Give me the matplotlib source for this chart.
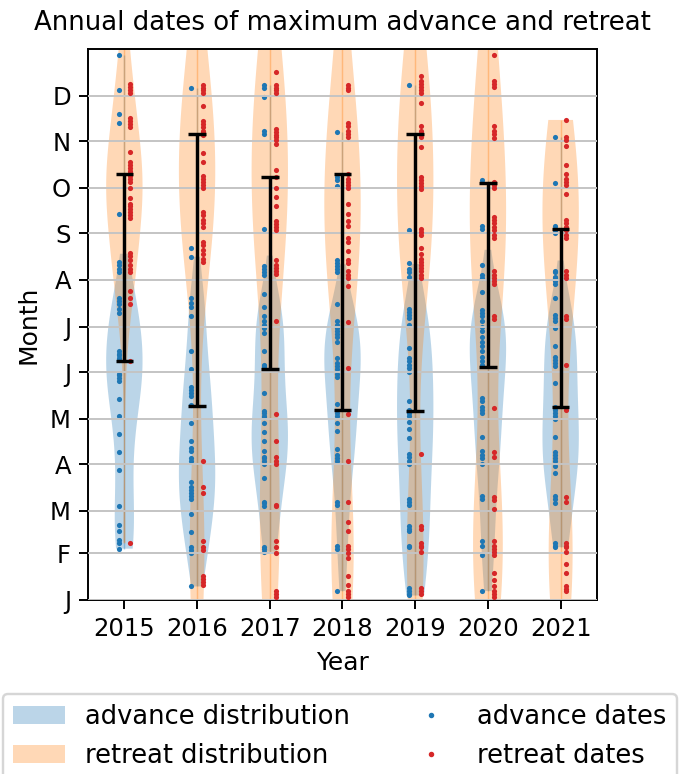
import matplotlib
matplotlib.use("Agg")
import matplotlib.pyplot as plt
from matplotlib import mlab
from matplotlib.patches import Patch
from matplotlib.lines import Line2D
import numpy as np

years = [2015, 2016, 2017, 2018, 2019, 2020, 2021]
month_labels = ["J", "F", "M", "A", "M", "J", "J", "A", "S", "O", "N", "D"]
month_start_days = [1, 32, 60, 91, 121, 152, 182, 213, 244, 274, 305, 335]

# day-of-year of annual maximum advance, per year
advance_2015 = [362, 339, 323, 317, 257, 225, 223, 220, 218, 201, 199, 197, 194, 191, 166, 164, 163, 161, 160,
                151, 150, 148, 146, 134, 123, 111, 99, 87, 63, 51, 47, 41, 39, 35]
advance_2016 = [340, 234, 228, 201, 198, 195, 189, 166, 154, 142, 140, 138, 136, 130, 118, 106, 102, 100, 95, 93,
                79, 76, 74, 72, 70, 68, 58, 46, 36, 34, 32, 10]
advance_2017 = [342, 340, 334, 312, 310, 247, 222, 220, 218, 216, 204, 195, 189, 186, 183, 181, 178, 166, 157, 156,
                155, 138, 126, 125, 123, 122, 118, 112, 106, 100, 96, 95, 93, 91, 82, 66, 65, 63, 36, 35, 33]
advance_2018 = [311, 281, 279, 275, 226, 224, 222, 220, 218, 197, 186, 183, 181, 179, 177, 175, 172, 161, 158, 156,
                154, 151, 149, 131, 125, 123, 118, 113, 101, 97, 95, 93, 66, 64, 37, 35, 7]
advance_2019 = [342, 246, 224, 220, 218, 215, 194, 192, 190, 188, 183, 168, 161, 159, 157, 155, 152, 133, 127, 125,
                123, 119, 114, 108, 98, 96, 93, 91, 68, 66, 64, 50, 48, 47, 37, 36, 9, 7, 5, 4]
advance_2020 = [279, 249, 247, 223, 216, 214, 205, 193, 191, 189, 186, 182, 179, 175, 172, 169, 166, 162, 159, 157,
                135, 133, 129, 127, 125, 109, 100, 97, 95, 91, 70, 68, 40, 37, 31, 7]
advance_2021 = [308, 277, 249, 247, 246, 244, 219, 218, 215, 214, 212, 210, 201, 190, 188, 186, 181, 169, 162, 160,
                158, 156, 145, 129, 127, 125, 123, 121, 109, 99, 97, 95, 93, 90, 85, 70, 68, 65, 39, 37, 36]

# day-of-year of annual maximum retreat, per year (values outside 1..366 fall outside the view)
retreat_2015 = [385, 372, 343, 341, 339, 337, 320, 318, 316, 314, 298, 291, 289, 287, 285, 284, 282, 280, 278, 274,
                267, 263, 262, 260, 258, 256, 254, 231, 229, 226, 223, 220, 218, 206, 201, 197, 159, 39]
retreat_2016 = [390, 375, 342, 340, 339, 337, 328, 318, 316, 314, 312, 311, 309, 297, 291, 282, 280, 278, 276, 274,
                258, 256, 253, 251, 248, 238, 236, 233, 230, 227, 225, 93, 76, 72, 40, 36, 34, 17, 15, 13, 11, -5]
retreat_2017 = [395, 380, 370, 351, 342, 340, 339, 337, 313, 311, 309, 308, 306, 303, 286, 281, 274, 268, 262, 252,
                250, 248, 246, 226, 223, 221, 219, 217, 186, 124, 106, 96, 93, 91, 64, 63, 40, 36, 32, 7, 5, 3, -5]
retreat_2018 = [388, 372, 342, 340, 339, 317, 315, 312, 310, 308, 283, 280, 278, 276, 274, 263, 257, 252, 249, 241,
                238, 232, 226, 224, 219, 216, 214, 209, 185, 155, 124, 93, 66, 53, 47, 37, 35, 32, 29, 17, 11, 7, 5, 3,
                -5]
retreat_2019 = [390, 375, 348, 345, 343, 341, 339, 337, 330, 315, 312, 310, 308, 301, 281, 279, 277, 275, 273, 247,
                245, 243, 234, 230, 227, 225, 223, 221, 219, 216, 214, 98, 50, 48, 39, 37, 36, 33, 9, 7, 5, -5]
retreat_2020 = [385, 372, 362, 345, 343, 341, 315, 312, 310, 307, 278, 276, 274, 255, 253, 251, 248, 246, 243, 241,
                219, 216, 214, 212, 210, 189, 187, 128, 99, 96, 69, 67, 61, 40, 37, 35, 33, 31, 19, 14, 10, 7, 5, 3, -5]
retreat_2021 = [319, 308, 306, 302, 289, 283, 280, 278, 276, 270, 253, 251, 248, 246, 243, 241, 219, 216, 214, 189,
                187, 157, 127, 69, 66, 39, 37, 36, 33, 25, 19, 10, 8, 7, -3]

# summary dates marked by the black bars
advance_mean = [159.5, 129.7, 154.0, 127.1, 126.4, 155.3, 128.6]
retreat_mean = [283.0, 309.4, 281.4, 283.0, 309.4, 277.0, 246.8]

# the advance distribution covers the advance season only (up to late July)
advance_season_end = 206

advance = [advance_2015, advance_2016, advance_2017, advance_2018, advance_2019, advance_2020, advance_2021]
retreat = [retreat_2015, retreat_2016, retreat_2017, retreat_2018, retreat_2019, retreat_2020, retreat_2021]
advance_season = [[v for v in a if v <= advance_season_end] for a in advance]


def kde_stats(data, extend_top):
    data = np.asarray(data, dtype=float)
    kde = mlab.GaussianKDE(data, "scott")
    bw = float(np.sqrt(np.atleast_2d(kde.covariance)[0, 0]))
    lo, hi = data.min(), data.max() + extend_top * bw
    coords = np.linspace(lo, hi, 200)
    return dict(coords=coords, vals=kde.evaluate(coords), mean=data.mean(), median=np.median(data),
                min=lo, max=hi)


DPI = 175
fig = plt.figure(figsize=(680 / DPI, 774 / DPI), dpi=DPI)
ax = fig.add_axes([88 / 680, 1 - 600 / 774, (597 - 88) / 680, (600 - 49) / 774])

blue = "#1f77b4"
orange = "#ff7f0e"
red = "#d62728"
offset = 0.08

# advance violins
vp = ax.violin([kde_stats(a, 1.0) for a in advance_season], positions=years, widths=0.5, showextrema=False)
for b in vp["bodies"]:
    b.set_facecolor(blue)
    b.set_edgecolor("none")
    b.set_alpha(0.3)
ax.vlines(years, [min(a) for a in advance], [max(a) for a in advance], color=blue, alpha=0.35, lw=0.6)
for yr, vals in zip(years, advance):
    ax.scatter(np.full(len(vals), yr - offset), vals, s=4.5, color=blue, linewidths=0, zorder=2)

# retreat violins
vp2 = ax.violinplot(retreat, positions=years, widths=0.5, showextrema=False)
for b in vp2["bodies"]:
    b.set_facecolor(orange)
    b.set_edgecolor("none")
    b.set_alpha(0.3)
ax.vlines(years, [min(r) for r in retreat], [max(r) for r in retreat], color=orange, alpha=0.35, lw=0.6)
for yr, vals in zip(years, retreat):
    ax.scatter(np.full(len(vals), yr + offset), vals, s=4.5, color=red, linewidths=0, zorder=3)

# black bars between summary dates
ax.vlines(years, advance_mean, retreat_mean, color="black", lw=1.4, zorder=5)
ax.hlines(advance_mean, [y - 0.12 for y in years], [y + 0.12 for y in years], color="black", lw=1.4, zorder=5)
ax.hlines(retreat_mean, [y - 0.12 for y in years], [y + 0.12 for y in years], color="black", lw=1.4, zorder=5)

ax.set_xlim(2014.5, 2021.5)
ax.set_ylim(1, 366)
ax.set_xticks(years)
ax.set_xticklabels([str(y) for y in years], fontsize=10)
ax.set_yticks(month_start_days)
ax.set_yticklabels(month_labels, fontsize=10)
ax.yaxis.grid(True, color="#c4c4c4", lw=0.8)
ax.set_axisbelow(False)
ax.set_xlabel("Year", fontsize=10.3)
ax.set_ylabel("Month", fontsize=10.3)
ax.set_title("Annual dates of maximum advance and retreat", fontsize=10.7, pad=8)

handles = [
    Patch(facecolor=blue, alpha=0.3, edgecolor="none"),
    Patch(facecolor=orange, alpha=0.3, edgecolor="none"),
    Line2D([], [], ls="none", marker=".", markersize=2.5, color=blue),
    Line2D([], [], ls="none", marker=".", markersize=2.5, color=red),
]
labels = ["advance distribution", "retreat distribution", "advance dates", "retreat dates"]
fig.legend(handles, labels, loc="upper left", bbox_to_anchor=(3 / 680, 1 - 694 / 774, 674 / 680, 0.0),
           mode="expand", ncol=2, fontsize=10.6, frameon=True, borderaxespad=0)

fig.savefig("out.png", dpi=DPI)
